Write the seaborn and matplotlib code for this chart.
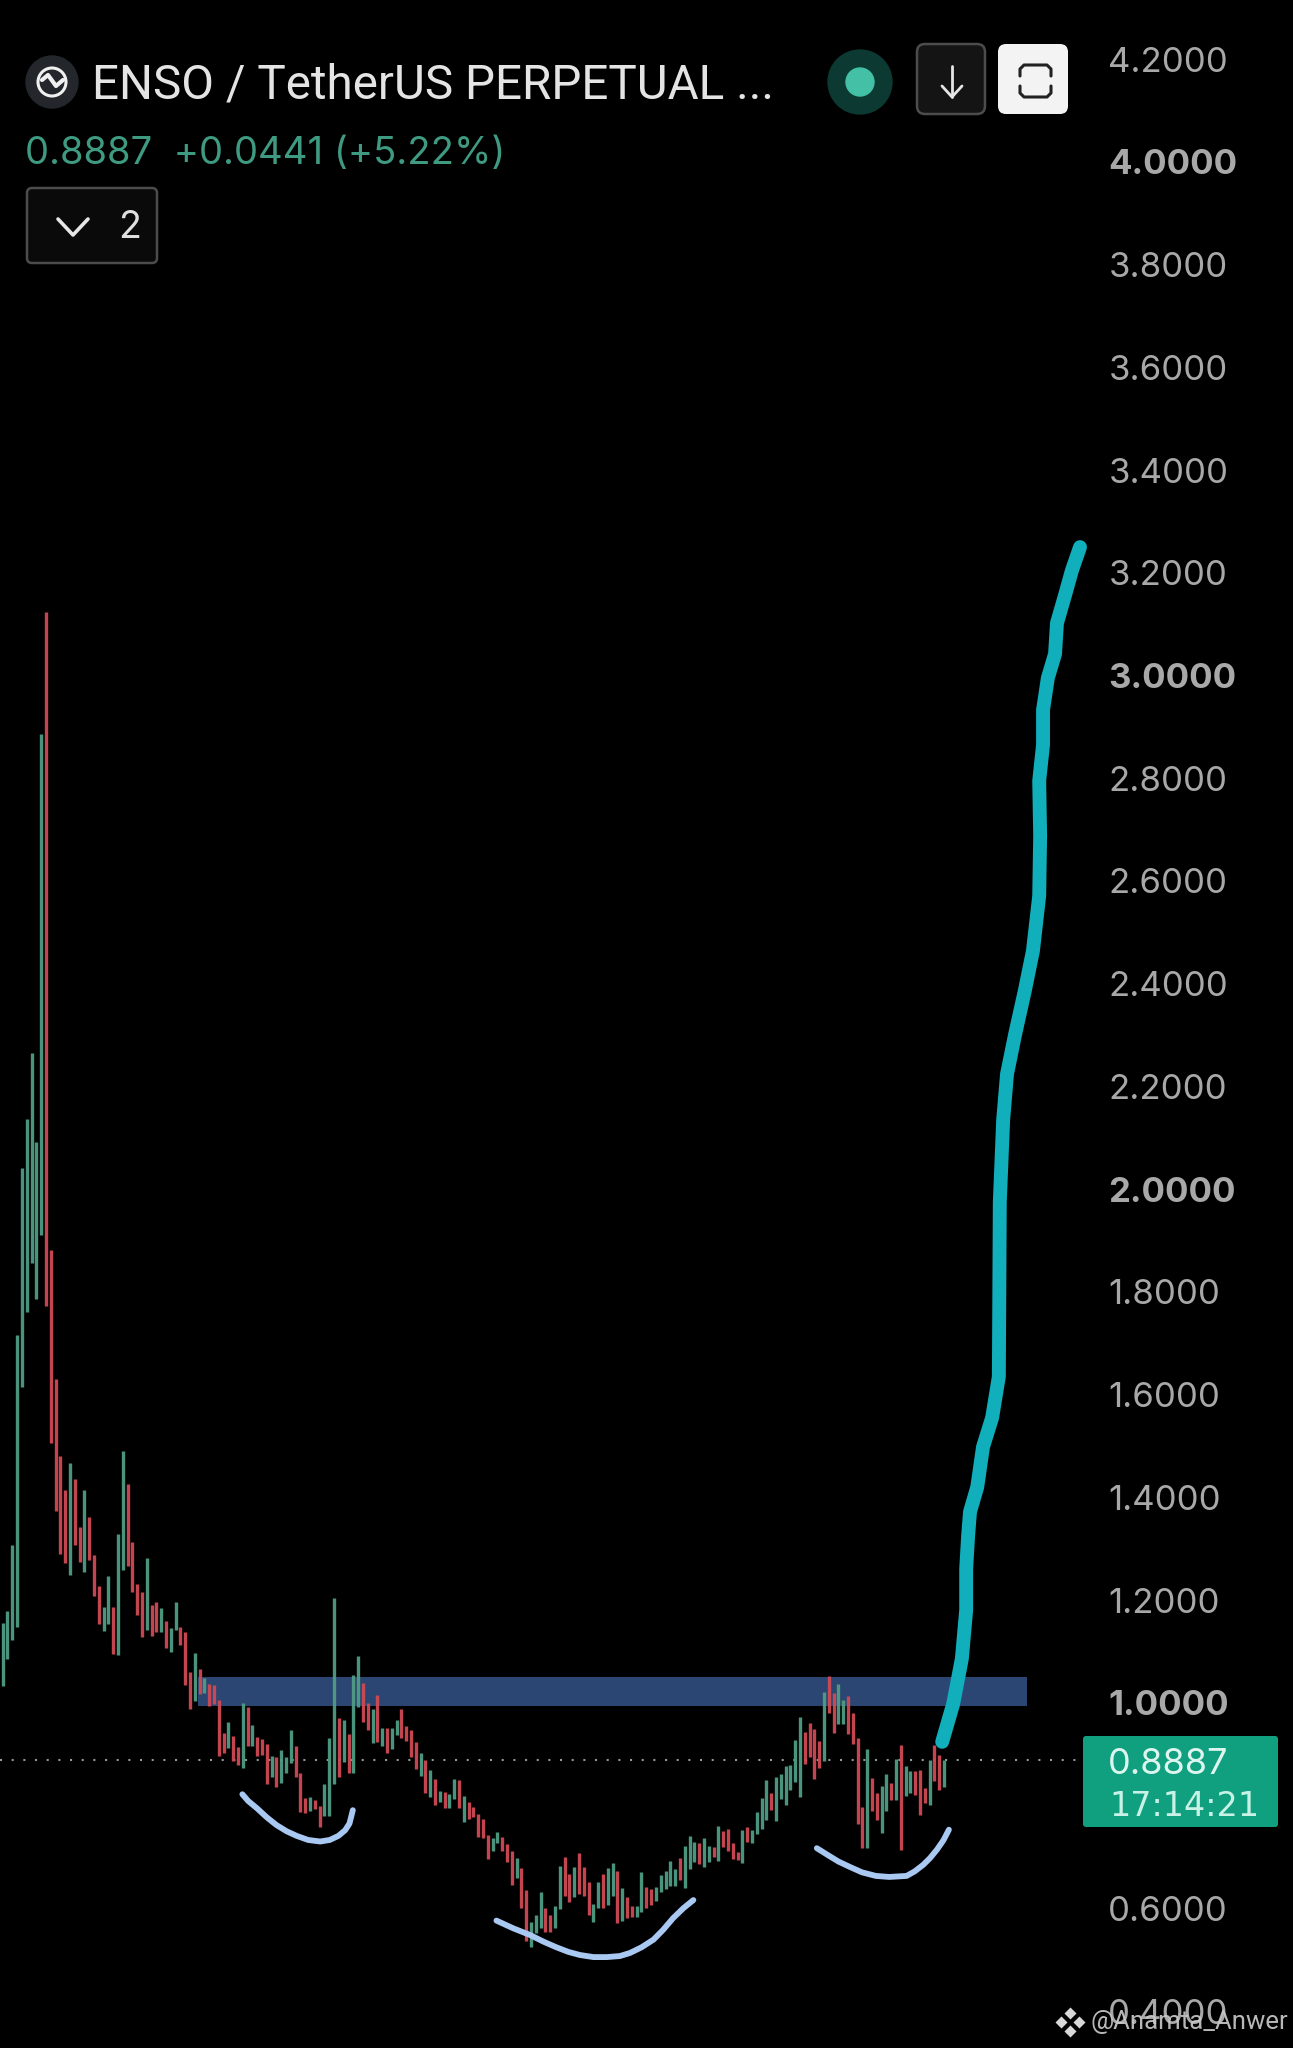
import matplotlib
matplotlib.use("Agg")
import matplotlib.pyplot as plt
from matplotlib.patches import Circle, FancyBboxPatch
import pandas as pd
import seaborn as sns

# candles (price units), index = bar number
candle_high = [
    1.156, 1.178, 1.308, 1.716, 2.041, 2.136, 2.265, 2.091, 2.886, 3.124,
    1.881, 1.631, 1.480, 1.415, 1.467, 1.436, 1.343, 1.415, 1.361, 1.287,
    1.227, 1.186, 1.247, 1.186, 1.329, 1.491, 1.426, 1.314, 1.232, 1.215,
    1.281, 1.190, 1.197, 1.184, 1.160, 1.145, 1.197, 1.147, 1.138, 1.060,
    1.097, 1.066, 1.049, 1.037, 1.034, 1.005, 0.942, 0.963, 0.935, 0.914,
    1.000, 0.992, 0.957, 0.934, 0.929, 0.920, 0.897, 0.894, 0.908, 0.894,
    0.947, 0.916, 0.863, 0.814, 0.817, 0.811, 0.799, 0.842, 0.931, 1.205,
    0.970, 0.967, 0.939, 1.055, 1.092, 1.039, 0.999, 0.988, 1.015, 0.950,
    0.950, 0.950, 0.967, 0.987, 0.955, 0.947, 0.924, 0.903, 0.889, 0.869,
    0.852, 0.828, 0.827, 0.822, 0.851, 0.850, 0.819, 0.806, 0.798, 0.783,
    0.773, 0.743, 0.737, 0.748, 0.739, 0.726, 0.711, 0.697, 0.678, 0.636,
    0.574, 0.587, 0.631, 0.600, 0.587, 0.605, 0.683, 0.700, 0.667, 0.680,
    0.707, 0.681, 0.651, 0.608, 0.651, 0.667, 0.678, 0.688, 0.673, 0.639,
    0.622, 0.605, 0.605, 0.670, 0.642, 0.637, 0.641, 0.665, 0.673, 0.692,
    0.677, 0.698, 0.722, 0.740, 0.729, 0.728, 0.736, 0.722, 0.720, 0.760,
    0.751, 0.755, 0.727, 0.709, 0.753, 0.758, 0.753, 0.787, 0.814, 0.849,
    0.825, 0.855, 0.862, 0.877, 0.879, 0.927, 0.972, 0.943, 0.960, 0.949,
    0.926, 1.022, 1.052, 1.019, 1.037, 1.006, 1.014, 0.980, 0.932, 0.798,
    0.910, 0.853, 0.824, 0.838, 0.861, 0.844, 0.890, 0.918, 0.877, 0.868,
    0.868, 0.870, 0.834, 0.889, 0.917, 0.899, 0.889,
]
candle_low = [
    1.033, 1.085, 1.123, 1.148, 1.615, 1.760, 1.857, 1.787, 1.910, 1.773,
    1.506, 1.373, 1.290, 1.273, 1.249, 1.308, 1.275, 1.254, 1.278, 1.208,
    1.153, 1.140, 1.153, 1.096, 1.093, 1.259, 1.266, 1.215, 1.170, 1.129,
    1.141, 1.131, 1.138, 1.137, 1.107, 1.099, 1.141, 1.112, 1.035, 0.988,
    1.003, 1.017, 1.019, 0.994, 0.998, 0.896, 0.902, 0.912, 0.886, 0.879,
    0.873, 0.916, 0.916, 0.897, 0.898, 0.842, 0.855, 0.837, 0.844, 0.864,
    0.882, 0.855, 0.788, 0.785, 0.790, 0.793, 0.759, 0.780, 0.780, 0.842,
    0.855, 0.885, 0.863, 0.864, 0.992, 0.963, 0.948, 0.922, 0.924, 0.916,
    0.903, 0.911, 0.937, 0.931, 0.926, 0.895, 0.871, 0.858, 0.824, 0.816,
    0.802, 0.806, 0.795, 0.796, 0.812, 0.796, 0.767, 0.773, 0.777, 0.738,
    0.737, 0.696, 0.711, 0.728, 0.711, 0.691, 0.645, 0.658, 0.601, 0.537,
    0.524, 0.552, 0.561, 0.554, 0.554, 0.561, 0.598, 0.623, 0.613, 0.621,
    0.628, 0.623, 0.586, 0.574, 0.600, 0.601, 0.607, 0.624, 0.571, 0.576,
    0.581, 0.584, 0.584, 0.592, 0.600, 0.607, 0.615, 0.631, 0.637, 0.644,
    0.644, 0.655, 0.639, 0.677, 0.690, 0.686, 0.681, 0.691, 0.699, 0.693,
    0.719, 0.712, 0.696, 0.694, 0.688, 0.729, 0.728, 0.744, 0.755, 0.771,
    0.792, 0.769, 0.812, 0.801, 0.831, 0.845, 0.816, 0.881, 0.895, 0.851,
    0.874, 0.886, 0.980, 0.941, 0.959, 0.959, 0.939, 0.920, 0.764, 0.717,
    0.717, 0.790, 0.772, 0.746, 0.790, 0.810, 0.810, 0.714, 0.818, 0.824,
    0.821, 0.782, 0.805, 0.801, 0.847, 0.831, 0.837,
]
# bars that closed down, the rest are green
red_bars = [
    9, 10, 11, 12, 13, 15, 16, 18, 19, 20, 23, 26, 27, 28, 29, 31, 32, 34, 37, 38, 39, 41, 43,
    44, 45, 46, 48, 49, 51, 53, 54, 55, 57, 61, 62, 63, 65, 66, 70, 72, 75, 76, 78, 80, 83, 84,
    85, 86, 88, 90, 92, 95, 97, 98, 99, 100, 101, 104, 105, 106, 108, 109, 113, 114, 117, 118,
    120, 121, 122, 125, 128, 130, 131, 134, 135, 141, 145, 148, 150, 151, 152, 153, 155, 160,
    167, 168, 169, 170, 172, 173, 176, 177, 178, 179, 181, 182, 185, 187, 190, 191, 192, 194, 195,
]

zone_top, zone_bottom = 1.0506, 0.993
zone_from, zone_to = 40.66, 213.3
last_price = 0.8887

# hand drawn marks on the chart (bar number, price)
target_bar = [195.6, 197.9, 199.7, 200.6, 200.6, 201.0, 201.4, 202.9, 204.1, 206.0, 207.4, 207.6, 208.3, 209.1,
              210.8, 212.8, 214.5, 215.8, 216.0, 215.8, 216.6, 216.6, 217.6, 219.1, 219.5, 221.2, 222.6, 224.3]
target_price = [0.924, 0.998, 1.086, 1.181, 1.261, 1.325, 1.372, 1.420, 1.498, 1.555, 1.635, 1.975, 2.135, 2.224,
                2.302, 2.386, 2.464, 2.571, 2.688, 2.795, 2.865, 2.933, 2.995, 3.042, 3.102, 3.157, 3.204, 3.250]
cup1_bar = [49.9, 51.1, 52.9, 55.0, 57.0, 59.1, 61.2, 63.6, 66.1, 68.1, 69.9, 71.3, 72.2, 72.9]
cup1_price = [0.822, 0.809, 0.795, 0.777, 0.762, 0.750, 0.741, 0.733, 0.730, 0.733, 0.741, 0.752, 0.765, 0.791]
cup2_bar = [102.8, 106.3, 109.8, 112.6, 115.3, 117.8, 120.2, 123.0, 125.8, 128.5, 130.6, 133.0, 135.5, 137.5,
            139.6, 141.7, 143.8]
cup2_price = [0.576, 0.561, 0.548, 0.535, 0.524, 0.515, 0.509, 0.505, 0.505, 0.507, 0.513, 0.524, 0.539, 0.558,
              0.581, 0.600, 0.616]
cup3_bar = [169.5, 171.9, 174.0, 176.5, 178.9, 181.8, 184.6, 188.2, 189.9, 191.7, 193.1, 194.5, 195.9, 197.0]
cup3_price = [0.717, 0.703, 0.691, 0.680, 0.670, 0.663, 0.661, 0.663, 0.672, 0.685, 0.698, 0.714, 0.733, 0.753]

tick_values = [0.4, 0.6, 1.0, 1.2, 1.4, 1.6, 1.8, 2.0, 2.2, 2.4, 2.6, 2.8, 3.0, 3.2, 3.4, 3.6, 3.8, 4.0, 4.2]
tick_labels = [f"{v:.4f}" for v in tick_values]
bold_ticks = [1.0, 2.0, 3.0, 4.0]

UP = "#4f9c84"
DOWN = "#cf4a55"
BLACK = "#000000"

sns.set_theme(style="dark")
plt.rcParams["font.family"] = ["Inter", "DejaVu Sans"]

fig = plt.figure(figsize=(12.93, 20.48), dpi=100, facecolor=BLACK)
ax = fig.add_axes([0, 0, 1100 / 1293, 1], facecolor=BLACK)

n = len(candle_high)
dirs = ["down" if i in red_bars else "up" for i in range(n)]
df = pd.DataFrame({
    "bar": list(range(n)) * 2,
    "price": candle_high + candle_low,
    "dir": dirs * 2,
})

ax.axhspan(zone_bottom, zone_top, xmin=(zone_from + 0.56) / 229.02, xmax=(zone_to + 0.56) / 229.02,
           color="#2b4672", lw=0, zorder=1)
ax.axhline(last_price, xmin=0, xmax=1, color="#8f9d94", lw=1.5, ls=(0, (1, 4.6)), zorder=1.5)

sns.lineplot(data=df, x="bar", y="price", hue="dir", units="bar", estimator=None,
             palette={"up": UP, "down": DOWN}, lw=2.4, solid_capstyle="butt",
             alpha=0.95, legend=False, ax=ax, zorder=2)

for xs, ys in [(cup1_bar, cup1_price), (cup2_bar, cup2_price), (cup3_bar, cup3_price)]:
    sns.lineplot(x=xs, y=ys, sort=False, estimator=None, color="#a9c8f2", lw=4.2,
                 solid_capstyle="round", solid_joinstyle="round", ax=ax, zorder=3)
sns.lineplot(x=target_bar, y=target_price, sort=False, estimator=None, color="#10afbb", lw=10,
             solid_capstyle="round", solid_joinstyle="round", ax=ax, zorder=4)

ax.set_xlim(-0.56, 228.46)
ax.set_ylim(0.328, 4.315)
ax.set_xticks([])
ax.yaxis.tick_right()
ax.set_yticks(tick_values, tick_labels)
ax.tick_params(axis="y", length=0, pad=6.0, colors="#a8a8a8", labelsize=25)
for lab, v in zip(ax.get_yticklabels(), tick_values):
    lab.set_verticalalignment("center_baseline")
    if v in bold_ticks:
        lab.set_fontweight("bold")
ax.set_xlabel("")
ax.set_ylabel("")
ax.grid(False)
sns.despine(ax=ax, left=True, bottom=True, right=True, top=True)

# app chrome on top, in pixels
ui = fig.add_axes([0, 0, 1, 1], facecolor="none")
ui.set_xlim(0, 1293)
ui.set_ylim(2048, 0)
ui.axis("off")

ui.add_patch(Circle((52, 82), 26, color="#23272b"))
ui.add_patch(Circle((52, 82), 14, fill=False, ec="#f0f0f0", lw=2.2))
ui.plot([42, 48, 56, 63], [80, 75, 86, 80], color="#f0f0f0", lw=3)
ui.text(92, 85, "ENSO / TetherUS PERPETUAL ...", color="#e4e4e4", fontsize=34.3, va="center", ha="left",
        family=["Roboto", "DejaVu Sans"])

ui.add_patch(Circle((860, 82), 32, color="#0c3a33"))
ui.add_patch(Circle((860, 82), 14, color="#43c0a5"))

ui.add_patch(FancyBboxPatch((920, 47), 62, 64, boxstyle="round,pad=3,rounding_size=8", fc="#141414", ec="#4c4c4c", lw=1.8))
ui.plot([952, 952], [66, 97], color="#e6e6e6", lw=2)
ui.plot([942, 952, 962], [86, 97, 86], color="#e6e6e6", lw=2)
ui.add_patch(FancyBboxPatch((1001, 47), 64, 64, boxstyle="round,pad=3,rounding_size=8", fc="#f3f3f3", ec="none"))
ui.plot([1020, 1020, 1024, 1047, 1051, 1051], [76, 69, 65, 65, 69, 76], color="#222222", lw=2.2)
ui.plot([1020, 1020, 1024, 1047, 1051, 1051], [86, 93, 97, 97, 93, 86], color="#222222", lw=2.2)

ui.text(25, 154, "0.8887  +0.0441 (+5.22%)", color="#3f9a82", fontsize=27.5, va="center", ha="left")

ui.add_patch(FancyBboxPatch((30, 191), 124, 69, boxstyle="round,pad=3,rounding_size=5", fc="#0a0a0a", ec="#4c4c4c", lw=1.8))
ui.plot([58, 73, 88], [219, 235, 219], color="#e6e6e6", lw=2.6)
ui.text(130, 228, "2", color="#e0e0e0", fontsize=27, va="center", ha="center")

ui.add_patch(FancyBboxPatch((1086, 1739), 189, 85, boxstyle="round,pad=3,rounding_size=3", fc="#11a07f", ec="none"))
ui.text(1108, 1764, "0.8887", color="#dcf5ee", fontsize=26, va="center", ha="left")
ui.text(1109, 1806, "17:14:21", color="#c9f2e6", fontsize=24, va="center", ha="left",
        family=["DejaVu Sans"])

# watermark
for dx, dy in [(0, -9), (0, 9), (-9, 0), (9, 0)]:
    ui.plot(1070 + dx, 2022 + dy, marker="D", ms=6.5, color="#d8d8d8", mec="none", ls="none")
ui.text(1090, 2022, "@Anamta_Anwer", color="#c8c8c8", fontsize=18.5, va="center", ha="left", alpha=0.92,
        family=["Roboto", "DejaVu Sans"])

fig.savefig("out.png", dpi=100, facecolor=BLACK)
